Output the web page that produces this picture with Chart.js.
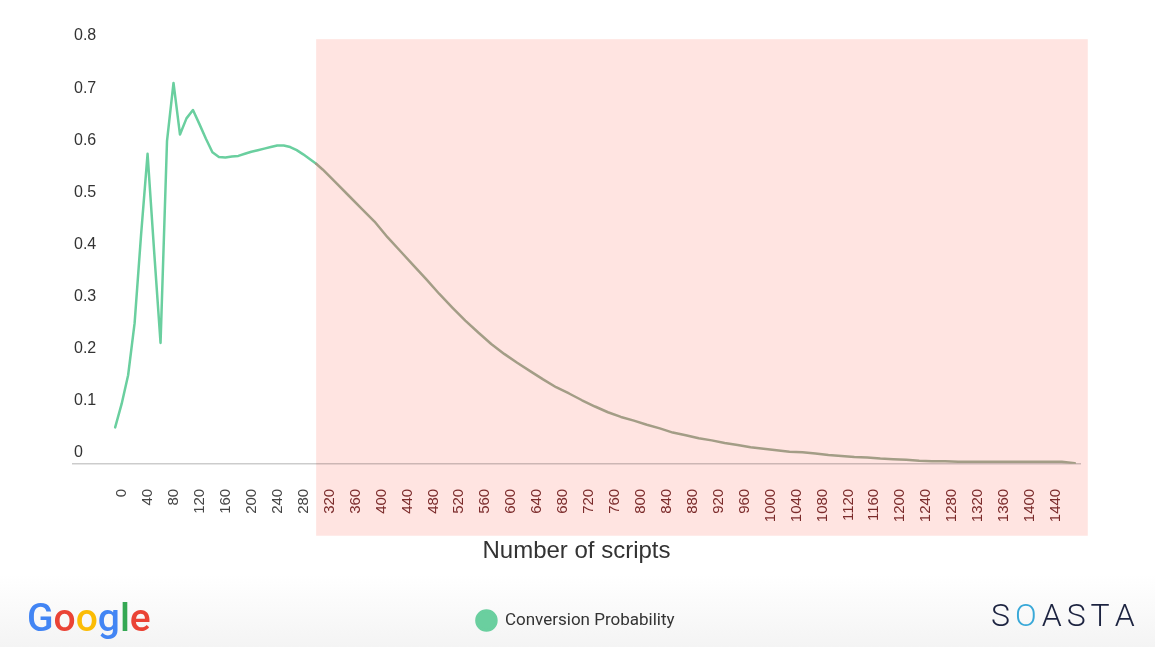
<!DOCTYPE html>
<html>
<head>
<meta charset="utf-8">
<title>Number of scripts vs conversion probability</title>
<script src="https://cdn.jsdelivr.net/npm/chart.js@4.4.1/dist/chart.umd.min.js"></script>
<style>
    html, body { margin: 0; padding: 0; }
    body { background: linear-gradient(#ffffff 0, #ffffff 575px, #f4f4f4 647px); }
    #wrap { width: 1155px; height: 647px; position: relative; }
</style>
</head>
<body>
<div id="wrap"><canvas id="scriptsChart"></canvas></div>
<script>
// Number of scripts on the page and the conversion probability
const scripts = [0, 10, 20, 30, 40, 50, 60, 70, 80, 90,
    100, 110, 120, 130, 140, 150, 160, 170, 180, 190,
    200, 210, 220, 230, 240, 250, 260, 270, 280, 290,
    300, 310, 320, 340, 360, 380, 400, 420, 440, 460,
    480, 500, 520, 540, 560, 580, 600, 620, 640, 660,
    680, 700, 720, 740, 760, 780, 800, 820, 840, 860,
    880, 900, 920, 940, 960, 980, 1000, 1020, 1040, 1060,
    1080, 1100, 1120, 1140, 1160, 1180, 1200, 1220, 1240, 1260,
    1280, 1300, 1320, 1340, 1360, 1380, 1400, 1420, 1440, 1460, 1480];
const conversion = [0.07, 0.115, 0.17, 0.27, 0.44, 0.595, 0.41, 0.232, 0.62, 0.731,
    0.632, 0.663, 0.679, 0.652, 0.624, 0.598, 0.589, 0.588, 0.59, 0.591,
    0.595, 0.599, 0.602, 0.605, 0.608, 0.611, 0.611, 0.608, 0.602, 0.594,
    0.585, 0.576, 0.565, 0.54, 0.515, 0.49, 0.465, 0.435, 0.408, 0.381,
    0.354, 0.326, 0.3, 0.275, 0.252, 0.23, 0.211, 0.194, 0.178, 0.162,
    0.147, 0.135, 0.122, 0.11, 0.099, 0.09, 0.083, 0.075, 0.068, 0.06,
    0.055, 0.049, 0.045, 0.04, 0.036, 0.032, 0.029, 0.026, 0.023, 0.022,
    0.02, 0.017, 0.015, 0.013, 0.012, 0.01, 0.009, 0.008, 0.006, 0.005,
    0.005, 0.004, 0.004, 0.004, 0.004, 0.004, 0.004, 0.004, 0.004, 0.004, 0.001];

const xTicks = [0, 40, 80, 120, 160, 200, 240, 280, 320, 360, 400, 440, 480, 520,
    560, 600, 640, 680, 720, 760, 800, 840, 880, 920, 960, 1000, 1040, 1080,
    1120, 1160, 1200, 1240, 1280, 1320, 1360, 1400, 1440];
const yTicks = [0, 0.1, 0.2, 0.3, 0.4, 0.5, 0.6, 0.7, 0.8];

// highlighted range of script counts
const shadeFrom = 310;
const shadeTo = 1500;

const green = '#6acf9f';
const dimmed = '#a39d86';

// Pink highlight box drawn behind the chart
const shadePlugin = {
    id: 'shade',
    beforeDraw(chart) {
        const { ctx, scales: { x, y } } = chart;
        const left = x.getPixelForValue(shadeFrom);
        const right = x.getPixelForValue(shadeTo);
        const top = y.getPixelForValue(0.815);
        const bottom = y.getPixelForValue(-0.138);
        ctx.save();
        ctx.fillStyle = '#ffe4e1';
        ctx.fillRect(left, top, right - left, bottom - top);
        ctx.restore();
    }
};

// Footer logos as text
const logoPlugin = {
    id: 'logos',
    afterDraw(chart) {
        const ctx = chart.ctx;
        ctx.save();
        ctx.textBaseline = 'alphabetic';
        ctx.font = '500 39px Roboto';
        let gx = 27;
        const google = [['G', '#4285f4'], ['o', '#ea4335'], ['o', '#fbbc05'], ['g', '#4285f4'], ['l', '#34a853'], ['e', '#ea4335']];
        google.forEach(([ch, col]) => {
            ctx.fillStyle = col;
            ctx.fillText(ch, gx, 631);
            gx += ctx.measureText(ch).width;
        });
        ctx.font = '300 32px Roboto';
        let sx = 991;
        const soasta = [['S', '#1c2340'], ['O', '#38a8d8'], ['A', '#1c2340'], ['S', '#1c2340'], ['T', '#1c2340'], ['A', '#1c2340']];
        soasta.forEach(([ch, col]) => {
            ctx.fillStyle = col;
            ctx.fillText(ch, sx, 626);
            sx += ctx.measureText(ch).width + 5;
        });
        ctx.restore();
    }
};

let ctx = document.getElementById('scriptsChart').getContext('2d');
let chart = new Chart(ctx, {
    type: 'line',
    data: {
        datasets: [{
            label: 'Conversion Probability',
            data: scripts.map((s, i) => ({ x: s, y: conversion[i] })),
            borderColor: green,
            backgroundColor: green,
            borderWidth: 2.5,
            borderJoinStyle: 'round',
            borderCapStyle: 'round',
            pointRadius: 0,
            tension: 0,
            segment: {
                borderColor: (c) => c.p0.parsed.x >= shadeFrom ? dimmed : undefined,
            },
        }],
    },
    options: {
        responsive: true,
        maintainAspectRatio: false,
        animation: false,
        layout: {
            padding: { left: 71, right: 75, top: 47, bottom: 8 },
        },
        scales: {
            x: {
                type: 'linear',
                min: -65,
                max: 1488,
                afterBuildTicks: (scale) => { scale.ticks = xTicks.map(v => ({ value: v })); },
                grid: { display: false, drawTicks: false },
                border: { display: true, color: 'rgba(0,0,0,0.2)', width: 1.5 },
                ticks: {
                    autoSkip: false,
                    minRotation: 90,
                    maxRotation: 90,
                    padding: 25,
                    labelOffset: 7,
                    font: { family: 'Liberation Sans', size: 15 },
                    color: (c) => c.tick && c.tick.value >= 320 ? '#7b2b2b' : '#444',
                    callback: (v) => String(v),
                },
                title: {
                    display: true,
                    text: 'Number of scripts',
                    color: '#333',
                    font: { family: 'Liberation Sans', size: 24 },
                    padding: { top: -10, bottom: 36 },
                },
            },
            y: {
                min: 0,
                max: 0.8,
                afterBuildTicks: (scale) => { scale.ticks = yTicks.map(v => ({ value: v })); },
                grid: { display: false, drawTicks: false },
                border: { display: false },
                ticks: {
                    mirror: true,
                    padding: 1,
                    labelOffset: -11,
                    font: { family: 'Liberation Sans', size: 16 },
                    color: '#333',
                    callback: (v) => String(Math.round(v * 10) / 10),
                },
            },
        },
        plugins: {
            legend: {
                position: 'bottom',
                labels: {
                    usePointStyle: true,
                    pointStyle: 'circle',
                    boxHeight: 14,
                    pointStyleWidth: 20,
                    color: '#333',
                    font: { family: 'Roboto', size: 17 },
                },
            },
            tooltip: { enabled: false },
        },
    },
    plugins: [shadePlugin, logoPlugin],
});
</script>
</body>
</html>
